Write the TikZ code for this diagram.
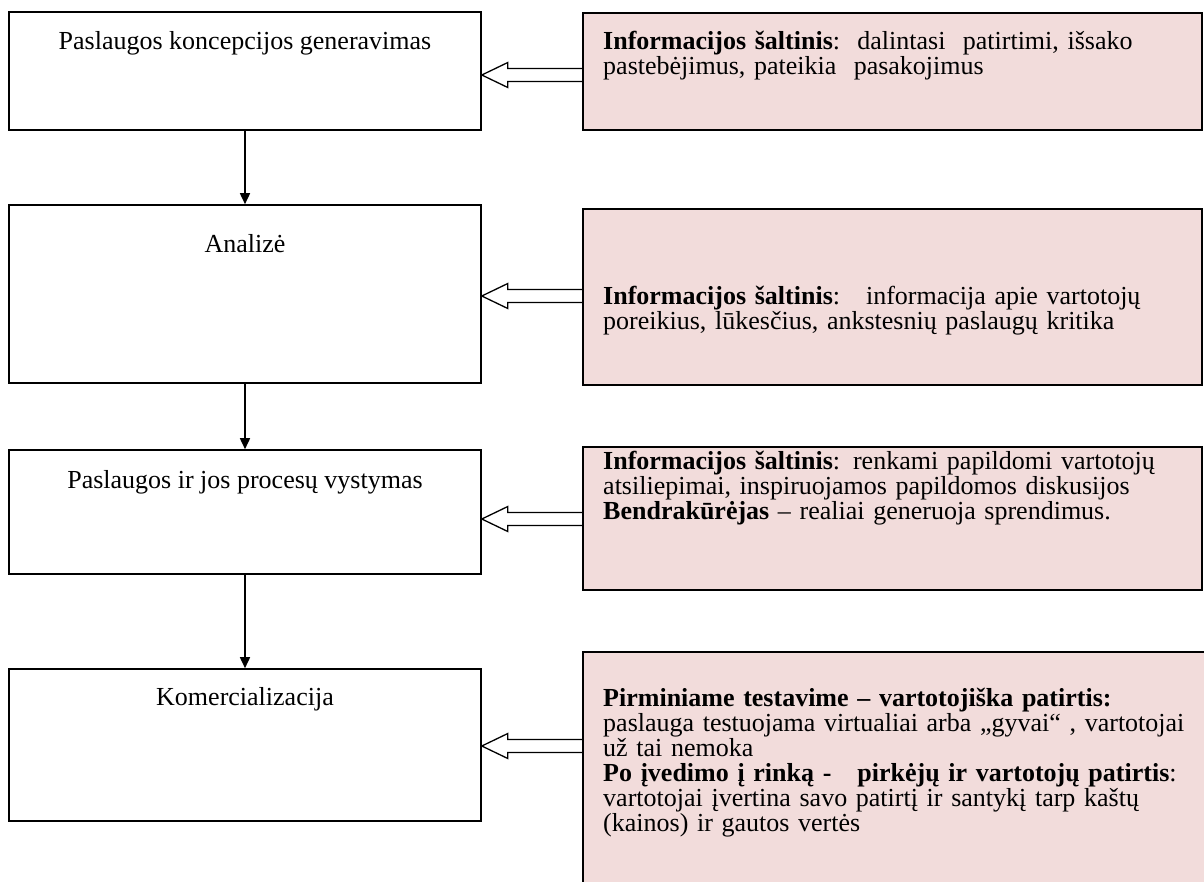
\documentclass[tikz,border=0pt]{standalone}
\usepackage{fontspec}
\setmainfont{Liberation Serif}
\usetikzlibrary{arrows.meta,calc}
\definecolor{pinkbg}{HTML}{F2DCDB}
\begin{document}
\begin{tikzpicture}[x=1pt,y=-1pt,
  stagebox/.style={draw,line width=1.6pt,inner sep=0pt,minimum width=472pt},
  srcbox/.style={draw,fill=pinkbg,line width=1.6pt,inner sep=0pt,minimum width=619pt},
  stagetext/.style={inner sep=0pt,anchor=base,font=\fontsize{26}{25}\selectfont},
  srctext/.style={inner sep=0pt,anchor=base west,text width=588pt,align=left,font=\fontsize{26}{25}\selectfont},
  flow/.style={line width=1.6pt,-{Triangle[length=11pt,width=10pt]}},
  hollow/.style={draw,line width=1.3pt,line join=miter}]
\useasboundingbox (0,0) rectangle (1204,881);
% left stage boxes
\node[stagebox,minimum height=118pt] (l1) at (245,71) {};
\node[stagebox,minimum height=178pt] (l2) at (245,294) {};
\node[stagebox,minimum height=124pt] (l3) at (245,512) {};
\node[stagebox,minimum height=152pt] (l4) at (245,745) {};
\node[stagetext] (lt1) at (245,49) {Paslaugos koncepcijos generavimas};
\node[stagetext] (lt2) at (245,252) {Analizė};
\node[stagetext] (lt3) at (245,488) {Paslaugos ir jos procesų vystymas};
\node[stagetext] (lt4) at (245,705) {Komercializacija};
% right source boxes
\node[srcbox,minimum height=117pt] (r1) at (892.5,71.5) {};
\node[srcbox,minimum height=176pt] (r2) at (892.5,297) {};
\node[srcbox,minimum height=143pt] (r3) at (892.5,518.5) {};
\node[fill=pinkbg,inner sep=0pt,minimum width=627pt,minimum height=238pt] (r4) at (896.5,771) {};
\draw[line width=1.6pt] (r4.south west) -- (r4.north west) -- (r4.north east);
\node[srctext] (rt1) at (603,49) {\textbf{Informacijos šaltinis}:\ \ dalintasi\ \ patirtimi, išsako\\
pastebėjimus, pateikia\ \ pasakojimus};
\node[srctext] (rt2) at (603,304) {\makebox[588pt][s]{\textbf{Informacijos šaltinis}:\ \ \ informacija apie vartotojų}\\
poreikius, lūkesčius, ankstesnių paslaugų kritika};
\node[srctext] (rt3) at (603,469) {\makebox[588pt][s]{\textbf{Informacijos šaltinis}: renkami papildomi vartotojų}\\
atsiliepimai, inspiruojamos papildomos diskusijos\\
\textbf{Bendrakūrėjas} – realiai generuoja sprendimus.};
\node[srctext] (rt4) at (603,706) {\textbf{Pirminiame testavime – vartotojiška patirtis:}\\
paslauga testuojama virtualiai arba „gyvai“ , vartotojai\\
už tai nemoka\\
\textbf{Po įvedimo į rinką -\ \ \ pirkėjų ir vartotojų patirtis}:\\
vartotojai įvertina savo patirtį ir santykį tarp kaštų\\
(kainos) ir gautos vertės};
% flow arrows
\draw[flow] (l1.south) -- (l2.north);
\draw[flow] (l2.south) -- (l3.north);
\draw[flow] (l3.south) -- (l4.north);
% hollow arrows
\coordinate (t1) at ($(l1.east)+(0,4)$);
\coordinate (t2) at ($(l2.east)+(0,2)$);
\coordinate (t3) at ($(l3.east)+(0,7)$);
\coordinate (t4) at ($(l4.east)+(0,1)$);
\draw[hollow] ($(r1.west|-t1)+(0,-6.5)$) -- ($(t1)+(26,-6.5)$) -- ($(t1)+(26,-12.5)$) -- (t1) -- ($(t1)+(26,12.5)$) -- ($(t1)+(26,6.5)$) -- ($(r1.west|-t1)+(0,6.5)$);
\draw[hollow] ($(r2.west|-t2)+(0,-6.5)$) -- ($(t2)+(26,-6.5)$) -- ($(t2)+(26,-12.5)$) -- (t2) -- ($(t2)+(26,12.5)$) -- ($(t2)+(26,6.5)$) -- ($(r2.west|-t2)+(0,6.5)$);
\draw[hollow] ($(r3.west|-t3)+(0,-6.5)$) -- ($(t3)+(26,-6.5)$) -- ($(t3)+(26,-12.5)$) -- (t3) -- ($(t3)+(26,12.5)$) -- ($(t3)+(26,6.5)$) -- ($(r3.west|-t3)+(0,6.5)$);
\draw[hollow] ($(r4.west|-t4)+(0,-6.5)$) -- ($(t4)+(26,-6.5)$) -- ($(t4)+(26,-12.5)$) -- (t4) -- ($(t4)+(26,12.5)$) -- ($(t4)+(26,6.5)$) -- ($(r4.west|-t4)+(0,6.5)$);
\end{tikzpicture}
\end{document}
